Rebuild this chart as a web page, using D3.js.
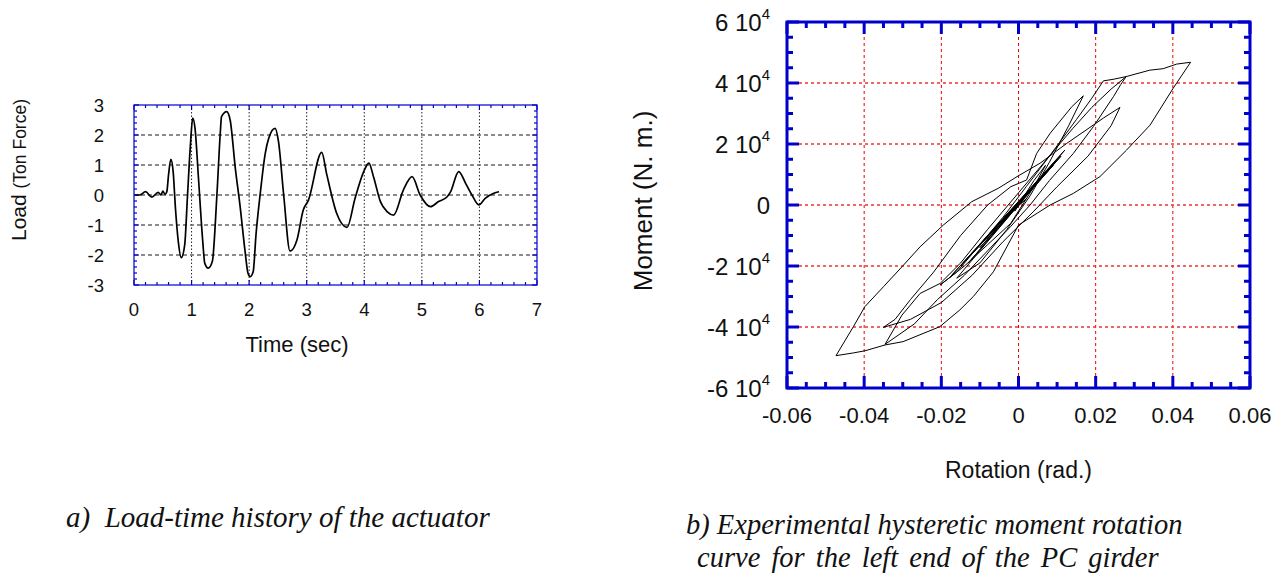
<!DOCTYPE html>
<html lang="en">
<head>
<meta charset="utf-8">
<title>Load history and moment-rotation hysteresis</title>
<script src="https://d3js.org/d3.v7.min.js"></script>
<style>
  body { margin: 0; background: #fff; }
  svg { display: block; }
  .lbl { font-family: "Liberation Sans", Arial, sans-serif; fill: #111; }
  .caption { font-family: "Liberation Serif", "Times New Roman", serif; font-style: italic; fill: #111; }
</style>
</head>
<body>
<script>
// ---- a) load-time history (read off the picture) ----
var loadTime = [0.02, 0.10, 0.20, 0.31, 0.42, 0.47, 0.50, 0.54, 0.57, 0.60, 0.64, 0.68, 0.72, 0.77, 0.82,
  0.88, 0.93, 0.98, 1.02, 1.06, 1.12, 1.19, 1.23, 1.29, 1.36, 1.44, 1.50, 1.52, 1.61, 1.67, 1.76, 1.84,
  1.93, 1.98, 2.02, 2.07, 2.12, 2.19, 2.28, 2.34, 2.45, 2.51, 2.60, 2.71, 2.83, 2.94, 3.03, 3.26, 3.35,
  3.52, 3.70, 3.84, 3.99, 4.08, 4.16, 4.28, 4.40, 4.51, 4.68, 4.83, 4.97, 5.15, 5.29, 5.44, 5.50, 5.64,
  5.76, 5.87, 5.99, 6.10, 6.25, 6.34];
var loadValue = [0.0, 0.0, 0.11, -0.07, 0.09, 0.0, 0.13, 0.02, 0.11, 0.67, 1.19, 0.78, -0.44, -1.56, -2.09,
  -1.67, 0.0, 1.67, 2.56, 2.22, 0.56, -1.44, -2.28, -2.44, -2.22, 0.0, 2.11, 2.61, 2.78, 2.5, 0.89, -0.33,
  -1.89, -2.61, -2.72, -2.56, -1.3, 0.0, 1.39, 1.89, 2.22, 1.78, 0.0, -1.87, -1.5, -0.5, -0.17, 1.42, 0.67,
  -0.61, -1.08, -0.11, 0.78, 1.06, 0.61, -0.22, -0.56, -0.67, 0.17, 0.61, 0.0, -0.39, -0.22, -0.06, 0.11, 0.78,
  0.39, 0.0, -0.33, -0.11, 0.06, 0.11];
var timeTicks = [0, 1, 2, 3, 4, 5, 6, 7];
var loadTicks = [-3, -2, -1, 0, 1, 2, 3];

// ---- b) moment-rotation hysteresis (read off the picture) ----
var rotation = [0, 0.0015, -0.001, 0.002, 0.0005, 0.004, 0.007,
  0.004, -0.002, -0.008, -0.014, -0.0203,
  -0.016, -0.01, -0.004, 0.002, 0.008, 0.014, 0.019, 0.024, 0.0279,
  0.0265, 0.0246, 0.0194, 0.0142, 0.008, 0.003, -0.002, -0.008, -0.014, -0.021, -0.027, -0.0346,
  -0.0302, -0.0255, -0.0203, -0.015, -0.008, 0, 0.008, 0.015, 0.019, 0.022, 0.0245, 0.0279, 0.034, 0.0375, 0.041, 0.0446,
  0.0401, 0.0341, 0.028, 0.0211, 0.0142, 0.0082, 0.0021, 0, -0.0065, -0.0117, -0.0152, -0.0204, -0.0299, -0.0346, -0.0398, -0.0428, -0.0473,
  -0.0428, -0.0398, -0.035, -0.0298, -0.0255, -0.0195, -0.0121, -0.0052, 0, 0.0056, 0.0125, 0.018, 0.022, 0.0263,
  0.024, 0.018, 0.01, 0.004, -0.004, -0.012, -0.02, -0.028, -0.035,
  -0.032, -0.028, -0.022, -0.015, -0.008, -0.002, 0.0021, 0.0047, 0.0082, 0.0138, 0.0168,
  0.013, 0.008, 0.003, -0.003, -0.01, -0.016,
  0.012, -0.018, 0.010, -0.015, 0.011, -0.013, 0.008, -0.012, 0.009, -0.010, 0.006, -0.008, 0.004, -0.005, 0.002, 0.0005];
var moment = [0, 2500, -2000, 3500, 1000, 8000, 13000,
  6000, -6000, -13000, -20000, -26200,
  -22000, -13000, -4000, 6000, 16000, 25000, 32000, 38000, 42100,
  39500, 35500, 25700, 16900, 8000, 0, -7000, -15000, -23000, -31000, -39000, -45700,
  -36100, -29000, -25700, -19000, -8000, 4000, 16000, 28000, 35000, 40700, 41200, 42100, 44200, 44700, 46200, 46800,
  38300, 26200, 18000, 9300, 3800, 0, -4900, -6600, -21900, -30000, -34400, -39900, -44800, -45900, -47800, -48500, -49400,
  -39900, -33300, -26800, -19700, -13700, -6600, 1100, 5500, 9600, 13700, 20200, 25000, 28500, 32000,
  26000, 16000, 6000, -2000, -12000, -23000, -32000, -37500, -40100,
  -37500, -31000, -22000, -10000, 0, 6000, 8200, 16900, 23500, 32200, 35800,
  26000, 14000, 3000, -8000, -19000, -24000,
  18000, -24000, 15000, -20000, 16000, -19000, 12000, -16000, 13000, -14000, 9000, -11000, 6000, -6000, 2000, 500];
var rotationTicks = [-0.06, -0.04, -0.02, 0, 0.02, 0.04, 0.06];
var momentTicks = [-6, -4, -2, 0, 2, 4, 6]; // x 10^4 N.m

var blue = "#0000cc";
var svg = d3.select("body").append("svg")
    .attr("width", 1285)
    .attr("height", 576);

// ticks pointing into the plot on all four sides, plus the frame
function frameTicks(g, x, y, xMinor, yMinor, xMajor, yMajor, minorLen, majorLen, sw) {
    var x0 = x.range()[0], x1 = x.range()[1], y0 = y.range()[0], y1 = y.range()[1];
    var t = [];
    xMinor.forEach(function(v) { t.push([x(v), y0, x(v), y0 - minorLen], [x(v), y1, x(v), y1 + minorLen]); });
    xMajor.forEach(function(v) { t.push([x(v), y0, x(v), y0 - majorLen], [x(v), y1, x(v), y1 + majorLen]); });
    yMinor.forEach(function(v) { t.push([x0, y(v), x0 + minorLen, y(v)], [x1, y(v), x1 - minorLen, y(v)]); });
    yMajor.forEach(function(v) { t.push([x0, y(v), x0 + majorLen, y(v)], [x1, y(v), x1 - majorLen, y(v)]); });
    g.selectAll("line.tk").data(t).enter().append("line")
        .attr("class", "tk")
        .attr("x1", d => d[0]).attr("y1", d => d[1])
        .attr("x2", d => d[2]).attr("y2", d => d[3])
        .attr("stroke", blue).attr("stroke-width", sw);
    g.append("rect")
        .attr("x", x0).attr("y", y1)
        .attr("width", x1 - x0).attr("height", y0 - y1)
        .attr("fill", "none").attr("stroke", blue).attr("stroke-width", sw);
}

// ================= chart a =================
var xa = d3.scaleLinear().domain([0, 7]).range([134, 537]);
var ya = d3.scaleLinear().domain([-3, 3]).range([285, 105]);
var ga = svg.append("g");

// grid
ga.selectAll("line.vg").data(timeTicks.slice(1, -1)).enter().append("line")
    .attr("x1", d => xa(d)).attr("x2", d => xa(d))
    .attr("y1", ya(-3)).attr("y2", ya(3))
    .attr("stroke", "#222").attr("stroke-width", 1).attr("stroke-dasharray", "1.5,2");
ga.selectAll("line.hg").data(loadTicks.slice(1, -1)).enter().append("line")
    .attr("x1", xa(0)).attr("x2", xa(7))
    .attr("y1", d => ya(d)).attr("y2", d => ya(d))
    .attr("stroke", "#666").attr("stroke-width", 1.3).attr("stroke-dasharray", "4,3");

var minorT = d3.range(0, 7.01, 0.2).filter(v => Math.abs(v - Math.round(v)) > 0.01);
var minorL = d3.range(-3, 3.01, 0.2).filter(v => Math.abs(v - Math.round(v)) > 0.01);
frameTicks(ga, xa, ya, minorT, minorL, timeTicks, loadTicks, 3, 5, 1.2);

// curve
ga.append("path")
    .datum(d3.zip(loadTime, loadValue))
    .attr("fill", "none").attr("stroke", "#000").attr("stroke-width", 1.7)
    .attr("d", d3.line().x(d => xa(d[0])).y(d => ya(d[1])).curve(d3.curveMonotoneX));

// tick labels
ga.selectAll("text.xl").data(timeTicks).enter().append("text")
    .attr("class", "lbl").attr("font-size", 18.5)
    .attr("x", d => xa(d)).attr("y", 316).attr("text-anchor", "middle")
    .text(d => d);
ga.selectAll("text.yl").data(loadTicks).enter().append("text")
    .attr("class", "lbl").attr("font-size", 18.5)
    .attr("x", 104).attr("y", d => ya(d) + 6.5).attr("text-anchor", "end")
    .text(d => d);
ga.append("text").attr("class", "lbl").attr("font-size", 22)
    .attr("x", 297).attr("y", 352).attr("text-anchor", "middle")
    .text("Time (sec)");
var yt = ga.append("text").attr("class", "lbl")
    .attr("transform", "translate(26,170) rotate(-90)").attr("text-anchor", "middle");
yt.append("tspan").attr("font-size", 21).text("Load ");
yt.append("tspan").attr("font-size", 17.5).text("(Ton Force)");

// ================= chart b =================
var xb = d3.scaleLinear().domain([-0.06, 0.06]).range([787, 1250]);
var yb = d3.scaleLinear().domain([-6, 6]).range([388, 22]);
var gb = svg.append("g");

gb.selectAll("line.vg").data(rotationTicks.slice(1, -1)).enter().append("line")
    .attr("x1", d => xb(d)).attr("x2", d => xb(d))
    .attr("y1", yb(-6)).attr("y2", yb(6))
    .attr("stroke", "#ee0000").attr("stroke-width", 1).attr("stroke-dasharray", "3,3");
gb.selectAll("line.hg").data(momentTicks.slice(1, -1)).enter().append("line")
    .attr("x1", xb(-0.06)).attr("x2", xb(0.06))
    .attr("y1", d => yb(d)).attr("y2", d => yb(d))
    .attr("stroke", "#ee3333").attr("stroke-width", 1.3).attr("stroke-dasharray", "3,3");

var minorR = d3.range(-0.06, 0.0601, 0.005).filter(v => Math.abs(v / 0.02 - Math.round(v / 0.02)) > 0.01);
var minorM = d3.range(-6, 6.01, 0.5).filter(v => Math.abs(v / 2 - Math.round(v / 2)) > 0.01);
frameTicks(gb, xb, yb, minorR, minorM, rotationTicks, momentTicks, 6, 12, 3);

gb.append("path")
    .datum(d3.zip(rotation, moment))
    .attr("fill", "none").attr("stroke", "#000").attr("stroke-width", 1)
    .attr("stroke-linejoin", "round")
    .attr("d", d3.line().x(d => xb(d[0])).y(d => yb(d[1] / 10000)));

gb.selectAll("text.xl").data(rotationTicks).enter().append("text")
    .attr("class", "lbl").attr("font-size", 22)
    .attr("x", d => xb(d)).attr("y", 423).attr("text-anchor", "middle")
    .text(d => d === 0 ? "0" : d.toFixed(2));
var ylab = gb.selectAll("text.yl").data(momentTicks).enter().append("text")
    .attr("class", "lbl").attr("font-size", 24)
    .attr("x", 770).attr("y", d => yb(d) + 8.5).attr("text-anchor", "end");
ylab.each(function(d) {
    var t = d3.select(this);
    if (d === 0) { t.text("0"); return; }
    t.append("tspan").text(d + " 10");
    t.append("tspan").attr("font-size", 15).attr("dy", -11.5).text("4");
});
gb.append("text").attr("class", "lbl").attr("font-size", 23)
    .attr("x", xb(0)).attr("y", 478).attr("text-anchor", "middle")
    .text("Rotation (rad.)");
gb.append("text").attr("class", "lbl").attr("font-size", 26)
    .attr("transform", "translate(652,201) rotate(-90)").attr("text-anchor", "middle")
    .text("Moment (N. m.)");

// ================= captions =================
svg.append("text").attr("class", "caption").attr("font-size", 29)
    .attr("x", 66).attr("y", 527)
    .attr("xml:space", "preserve").text("a)  Load-time history of the actuator");
svg.append("text").attr("class", "caption").attr("font-size", 28.5)
    .attr("x", 686).attr("y", 534)
    .text("b) Experimental hysteretic moment rotation");
svg.append("text").attr("class", "caption").attr("font-size", 28.5)
    .attr("x", 697).attr("y", 567).attr("word-spacing", 4)
    .text("curve for the left end of the PC girder");
</script>
</body>
</html>
